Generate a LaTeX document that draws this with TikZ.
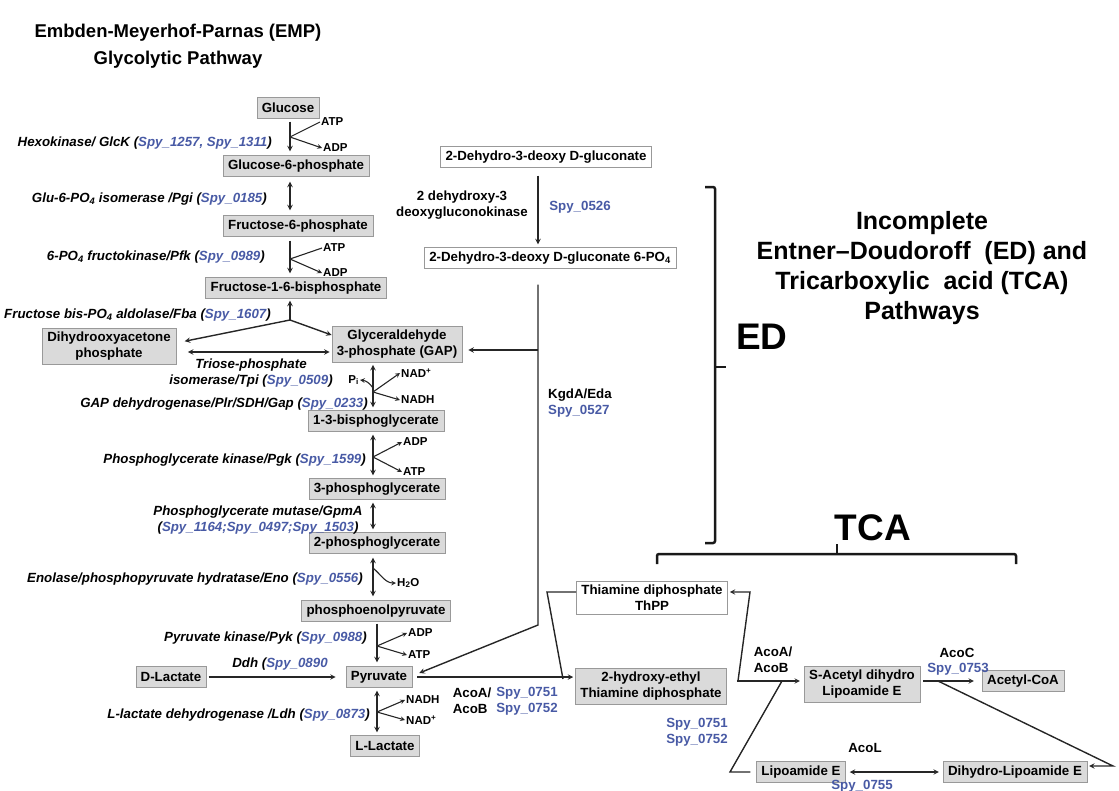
\documentclass[tikz,border=0pt]{standalone}
\usepackage{fontspec}
\setmainfont{Liberation Sans}
\usetikzlibrary{calc}
\definecolor{spyblue}{RGB}{72,90,165}
\definecolor{boxgray}{RGB}{218,218,218}
\newcommand{\spy}[1]{\textcolor{spyblue}{#1}}

\begin{document}
\begin{tikzpicture}[x=1pt, y=-1pt,
    box/.style={draw=black!40, fill=boxgray, font=\fontsize{13.3}{16}\selectfont\bfseries, align=center, inner xsep=5pt, inner ysep=3.5pt, minimum height=21pt},
    wbox/.style={box, fill=white},
    enz/.style={font=\fontsize{13.3}{16}\selectfont\bfseries\itshape, align=center, inner sep=1pt},
    lbl/.style={font=\fontsize{13.3}{16}\selectfont\bfseries, align=left, inner sep=1pt},
    cof/.style={font=\fontsize{11.5}{13}\selectfont\bfseries, inner sep=1pt},
    conn/.style={line width=1.4pt, draw=black!85},
    side/.style={line width=1.1pt, draw=black!85},
    brack/.style={line width=2.5pt, draw=black!90, rounded corners=2pt},
  ]
  \useasboundingbox (0,0) rectangle (1119,790);

  % titles
  \node[font=\fontsize{18.5}{27}\selectfont\bfseries, align=center] (emptitle) at (178,46) {Embden-Meyerhof-Parnas (EMP)\\Glycolytic Pathway};
  \node[font=\fontsize{25}{30}\selectfont\bfseries, align=center] (edtitle) at (922,268) {Incomplete\\Entner--Doudoroff\ \ (ED) and\\Tricarboxylic\ \ acid (TCA)\\Pathways};
  \node[font=\fontsize{37}{40}\selectfont\bfseries] (edlbl) at (762,337) {ED};
  \node[font=\fontsize{37}{40}\selectfont\bfseries] (tcalbl) at (873,528) {TCA};

  % column axes
  \coordinate (ax1) at (290,0);
  \coordinate (ax2) at (373,0);
  \coordinate (ax3) at (377,0);
  \coordinate (ax4) at (538,0);

  % glycolysis
  \node[box] (glc) at (288,108) {Glucose};
  \node[box] (g6p) at (296,166) {Glucose-6-phosphate};
  \node[box] (f6p) at (298,226) {Fructose-6-phosphate};
  \node[box] (fbp) at (296,288) {Fructose-1-6-bisphosphate};
  \node[box] (dhap) at (109,346) {Dihydrooxyacetone\\phosphate};
  \node[box] (gap) at (397,344) {Glyceraldehyde\\3-phosphate (GAP)};
  \node[box] (bpg) at (376,421) {1-3-bisphoglycerate};
  \node[box] (pg3) at (377,489) {3-phosphoglycerate};
  \node[box] (pg2) at (377,543) {2-phosphoglycerate};
  \node[box] (pep) at (376,611) {phosphoenolpyruvate};
  \node[box] (pyr) at (379,677) {Pyruvate};
  \node[box] (dlac) at (171,677) {D-Lactate};
  \node[box] (llac) at (385,746) {L-Lactate};

  % enzyme labels
  \node[enz, anchor=east] (hk) at (273,143) {Hexokinase/ GlcK (\spy{Spy\_1257, Spy\_1311})};
  \node[enz, anchor=east] (pgi) at (268,199) {Glu-6-PO\textsubscript{4} isomerase /Pgi (\spy{Spy\_0185})};
  \node[enz, anchor=east] (pfk) at (266,257) {6-PO\textsubscript{4} fructokinase/Pfk (\spy{Spy\_0989})};
  \node[enz, anchor=east] (fba) at (272,315) {Fructose bis-PO\textsubscript{4} aldolase/Fba (\spy{Spy\_1607})};
  \node[enz] (tpi) at (251,373) {Triose-phosphate\\isomerase/Tpi (\spy{Spy\_0509})};
  \node[enz, anchor=east] (gapdh) at (369,404) {GAP dehydrogenase/Plr/SDH/Gap (\spy{Spy\_0233})};
  \node[enz, anchor=east] (pgk) at (367,460) {Phosphoglycerate kinase/Pgk (\spy{Spy\_1599})};
  \node[enz] (gpm) at (258,520) {Phosphoglycerate mutase/GpmA\\(\spy{Spy\_1164;Spy\_0497;Spy\_1503})};
  \node[enz, anchor=east] (eno) at (364,579) {Enolase/phosphopyruvate hydratase/Eno (\spy{Spy\_0556})};
  \node[enz, anchor=east] (pyk) at (368,638) {Pyruvate kinase/Pyk (\spy{Spy\_0988})};
  \node[enz] (ddh) at (280,664) {Ddh (\spy{Spy\_0890}};
  \node[enz, anchor=east] (ldh) at (371,715) {L-lactate dehydrogenase /Ldh (\spy{Spy\_0873})};

  % cofactors
  \node[cof, anchor=west] (atp1) at (320,122) {ATP};
  \node[cof, anchor=west] (adp1) at (322,148) {ADP};
  \node[cof, anchor=west] (atp2) at (322,248) {ATP};
  \node[cof, anchor=west] (adp2) at (322,273) {ADP};
  \node[cof, anchor=east] (pi) at (360,380) {P\textsubscript{i}};
  \node[cof, anchor=west] (nadp1) at (400,373) {NAD\textsuperscript{+}};
  \node[cof, anchor=west] (nadh1) at (400,400) {NADH};
  \node[cof, anchor=west] (adp3) at (402,442) {ADP};
  \node[cof, anchor=west] (atp3) at (402,472) {ATP};
  \node[cof, anchor=west] (h2o) at (396,583) {H\textsubscript{2}O};
  \node[cof, anchor=west] (adp4) at (407,633) {ADP};
  \node[cof, anchor=west] (atp4) at (407,655) {ATP};
  \node[cof, anchor=west] (nadh2) at (405,700) {NADH};
  \node[cof, anchor=west] (nadp2) at (405,720) {NAD\textsuperscript{+}};

  \coordinate (vx1) at (290,137);
  \coordinate (vx2) at (290,259);
  \coordinate (vxf) at (290,320);
  \coordinate (tpiy) at (0,352);
  \coordinate (vpi) at (373,388);
  \coordinate (vx3) at (373,392);
  \coordinate (vx4) at (373,457);
  \coordinate (vh2o) at (373,568);
  \coordinate (vx5) at (377,646);
  \coordinate (vx6) at (377,712);

  % glycolysis connectors
  \draw[conn, -stealth, shorten <=3pt, shorten >=4pt] (glc.south -| ax1) -- (g6p.north -| ax1);
  \draw[side] (atp1.west) -- (vx1);
  \draw[side, -stealth] (vx1) -- (adp1.west);
  \draw[conn, stealth-stealth, shorten <=5pt, shorten >=5pt] (g6p.south -| ax1) -- (f6p.north -| ax1);
  \draw[conn, -stealth, shorten <=4pt, shorten >=4pt] (f6p.south -| ax1) -- (fbp.north -| ax1);
  \draw[side] (atp2.west) -- (vx2);
  \draw[side, -stealth] (vx2) -- (adp2.west);
  \draw[conn, -stealth, shorten >=2pt] (vxf) -- (fbp.south -| ax1);
  \draw[conn, -stealth, shorten >=9pt] (vxf) -- ([yshift=3pt]dhap.east);
  \draw[conn, -stealth] (vxf) -- ([yshift=9pt]gap.west);
  \draw[conn, stealth-stealth, shorten <=12pt, shorten >=2pt] (dhap.east |- tpiy) -- (gap.west |- tpiy);
  \draw[conn, stealth-stealth, shorten <=3pt, shorten >=3pt] (gap.south -| ax2) -- (bpg.north -| ax2);
  \draw[side, -stealth] (vpi) to[bend right=25] (pi.east);
  \draw[side, -stealth] (vx3) -- (nadp1.west);
  \draw[side, -stealth] (vx3) -- (nadh1.west);
  \draw[conn, stealth-stealth, shorten <=3pt, shorten >=3pt] (bpg.south -| ax2) -- (pg3.north -| ax2);
  \draw[side, -stealth] (vx4) -- (adp3.west);
  \draw[side, -stealth] (vx4) -- (atp3.west);
  \draw[conn, stealth-stealth, shorten <=3pt, shorten >=3pt] (pg3.south -| ax2) -- (pg2.north -| ax2);
  \draw[conn, stealth-stealth, shorten <=4pt, shorten >=4pt] (pg2.south -| ax2) -- (pep.north -| ax2);
  \draw[side, -stealth] (vh2o) to[out=-40, in=180] (h2o.west);
  \draw[conn, -stealth, shorten <=2pt, shorten >=4pt] (pep.south -| ax3) -- (pyr.north -| ax3);
  \draw[side, -stealth] (vx5) -- (adp4.west);
  \draw[side, -stealth] (vx5) -- (atp4.west);
  \draw[conn, -stealth, shorten <=2pt, shorten >=10pt] (dlac.east) -- (pyr.west);
  \draw[conn, stealth-stealth, shorten <=3pt, shorten >=3pt] (pyr.south -| ax3) -- (llac.north -| ax3);
  \draw[side, -stealth] (vx6) -- (nadh2.west);
  \draw[side, -stealth] (vx6) -- (nadp2.west);

  % ED branch
  \node[wbox] (kdg) at (546,157) {2-Dehydro-3-deoxy D-gluconate};
  \node[wbox] (kdpg) at (550,258) {2-Dehydro-3-deoxy D-gluconate 6-PO\textsubscript{4}};
  \node[lbl, align=center] (kdgk) at (462,205) {2 dehydroxy-3\\deoxygluconokinase};
  \node[lbl, text=spyblue] (spy526) at (580,207) {Spy\_0526};
  \node[lbl, anchor=west] (kgda) at (547,403) {KgdA/Eda\\\spy{Spy\_0527}};
  \coordinate (edgap) at (538,350);
  \coordinate (edbend) at (538,625);
  \draw[conn, -stealth, shorten <=8pt, shorten >=3pt] (kdg.south -| ax4) -- (kdpg.north -| ax4);
  \draw[conn, -stealth, shorten <=16pt] (kdpg.south -| ax4) -- (edbend) -- ([xshift=7pt,yshift=4pt]pyr.east);
  \draw[conn, -stealth, shorten >=6pt] (edgap) -- (gap.east |- edgap);

  % brackets
  \draw[brack] (705,187) -- (715,187) -- (715,543) -- (705,543);
  \draw[brack] (715,367) -- (726,367);
  \draw[brack] (657,564) -- (657,554) -- (1016,554) -- (1016,564);
  \draw[brack] (837,554) -- (837,544);

  % TCA part
  \node[wbox] (thpp) at (652,598) {Thiamine diphosphate\\ThPP};
  \node[box] (hthpp) at (651,686) {2-hydroxy-ethyl\\Thiamine diphosphate};
  \node[box] (sacet) at (862,684) {S-Acetyl dihydro\\Lipoamide E};
  \node[box] (acoa) at (1023,681) {Acetyl-CoA};
  \node[box] (lipo) at (801,772) {Lipoamide E};
  \node[box] (dhlipo) at (1015,772) {Dihydro-Lipoamide E};

  \node[lbl] (acoab1) at (472,701) {AcoA/\\AcoB};
  \node[lbl, text=spyblue] (spy751a) at (527,701) {Spy\_0751\\Spy\_0752};
  \node[lbl] (acoab2) at (773,660) {AcoA/\\AcoB};
  \node[lbl, text=spyblue] (spy751b) at (697,732) {Spy\_0751\\Spy\_0752};
  \node[lbl] (acoc) at (957,653) {AcoC};
  \node[lbl, text=spyblue] (spy753) at (958,669) {Spy\_0753};
  \node[lbl] (acol) at (865,748) {AcoL};
  \node[lbl, text=spyblue] (spy755) at (862,786) {Spy\_0755};

  \coordinate (tcay) at (0,681);
  \coordinate (tp1) at (547,592);
  \coordinate (tp2) at (563,679);
  \coordinate (tr1) at (738,681);
  \coordinate (tr2) at (750,592);
  \coordinate (lp1) at (782,681);
  \coordinate (lp2) at (730,772);
  \coordinate (dg1) at (938,681);
  \coordinate (dg2) at (1113,766);

  \draw[conn, -stealth, shorten <=5pt, shorten >=2pt] (pyr.east) -- (hthpp.west |- pyr.east);
  \draw[conn] (thpp.west |- tp1) -- (tp1) -- (tp2);
  \draw[conn, -stealth, shorten <=10pt, shorten >=4pt] (hthpp.east |- tcay) -- (sacet.west |- tcay);
  \draw[conn, -stealth, shorten >=2pt] (tr1) -- (tr2) -- (thpp.east |- tr2);
  \draw[conn, shorten <=6pt] (lipo.west) -- (lp2) -- (lp1);
  \draw[conn, stealth-stealth, shorten <=4pt, shorten >=4pt] (lipo.east) -- (dhlipo.west);
  \draw[conn, -stealth, shorten <=3pt, shorten >=8pt] (sacet.east |- tcay) -- (acoa.west |- tcay);
  \draw[conn, -stealth, shorten >=2pt] (dg1) -- (dg2) -- (dhlipo.east |- dg2);
\end{tikzpicture}
\end{document}
